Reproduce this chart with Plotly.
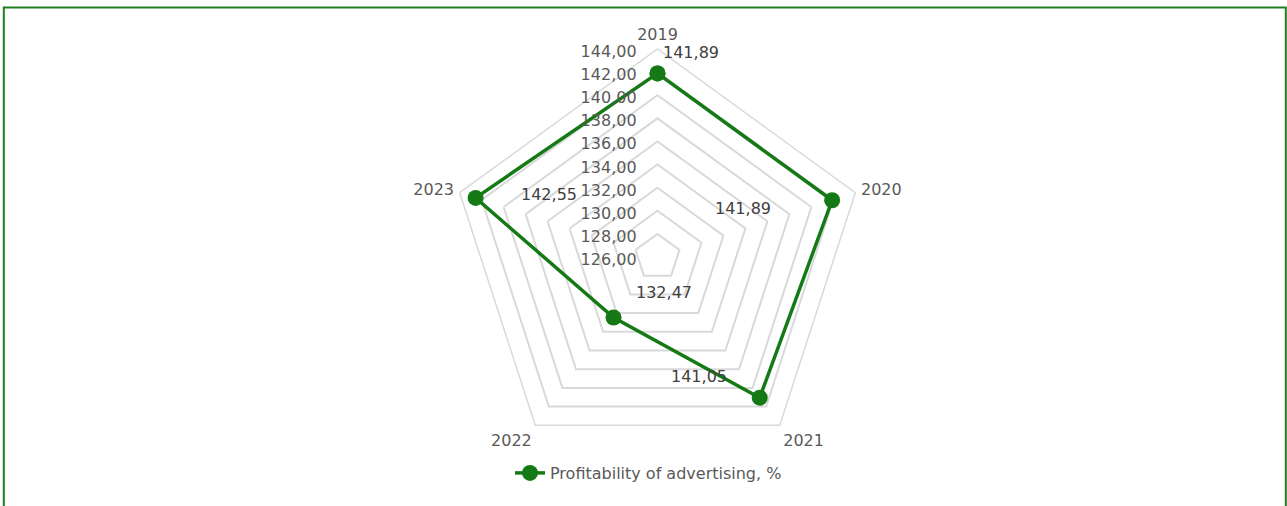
import math
import plotly.graph_objects as go

# Profitability of advertising by year
years = ["2019", "2020", "2021", "2022", "2023"]
profitability = [141.89, 141.89, 141.05, 132.47, 142.55]

# radial scale
r_min, r_max, r_step = 126, 144, 2

# pixel offsets of the value labels from their markers (dx, dy; dy positive = down)
label_offsets = [(33, -21), (-89, 8), (-61, -21), (50, -25), (73, -3)]

W, H = 1287, 506
GREEN = "#157A15"
TEXT = "#595959"
FONT = "DejaVu Sans"
FS = 16

# polar placement (pixels)
cx, cy, R = 657.5, 257.0, 208.0
dom_x = [(cx - R) / W, (cx + R) / W]
dom_y = [(H - cy - R) / H, (H - cy + R) / H]

fig = go.Figure()
fig.add_trace(go.Scatterpolar(
    r=profitability + profitability[:1],
    theta=years + years[:1],
    mode="lines+markers",
    name="Profitability of advertising, %",
    line=dict(color=GREEN, width=3.5),
    marker=dict(color=GREEN, size=16),
    hoverinfo="skip",
))

# value labels placed at each marker, shifted by the offsets above
n = len(years)
annotations = []
for i, (yr, v) in enumerate(zip(years, profitability)):
    ang = math.radians(90 - 360 * i / n)
    rp = (v - r_min) / (r_max - r_min) * R
    px = cx + rp * math.cos(ang)
    py = cy - rp * math.sin(ang)
    dx, dy = label_offsets[i]
    annotations.append(dict(
        x=px / W, y=(H - py) / H, xref="paper", yref="paper",
        xanchor="center", yanchor="middle",
        text=f"{v:.2f}".replace(".", ","), showarrow=False,
        xshift=dx, yshift=-dy,
        font=dict(family=FONT, size=FS, color="#404040"),
    ))

fig.update_layout(
    width=W, height=H,
    margin=dict(l=0, r=0, t=0, b=0),
    paper_bgcolor="white",
    separators=", ",
    font=dict(family=FONT, size=FS, color=TEXT),
    showlegend=True,
    legend=dict(orientation="h", x=0.5 + 5 / W, xanchor="center", y=(H - 473) / H,
                yanchor="middle", font=dict(family=FONT, size=FS, color=TEXT),
                bgcolor="rgba(0,0,0,0)"),
    polar=dict(
        domain=dict(x=dom_x, y=dom_y),
        gridshape="linear",
        bgcolor="white",
        radialaxis=dict(
            range=[r_min, r_max], dtick=r_step, tick0=r_min,
            tickformat=".2f", angle=90, side="counterclockwise",
            showline=False, ticks="outside", ticklen=6,
            tickcolor="rgba(0,0,0,0)", gridcolor="#D9D9D9", gridwidth=1.5,
            tickfont=dict(family=FONT, size=FS, color=TEXT),
        ),
        angularaxis=dict(
            rotation=90, direction="clockwise",
            showgrid=False, showline=True, linecolor="#D9D9D9", linewidth=1.5,
            ticks="outside", ticklen=2, tickcolor="rgba(0,0,0,0)",
            tickfont=dict(family=FONT, size=FS, color=TEXT),
        ),
    ),
    annotations=annotations,
    shapes=[dict(type="rect", xref="paper", yref="paper",
                 x0=3.8 / W, x1=1285.8 / W, y0=-0.2, y1=(H - 7.5) / H,
                 line=dict(color="#1F7F1F", width=2))],
)

fig.write_html("out.html")
